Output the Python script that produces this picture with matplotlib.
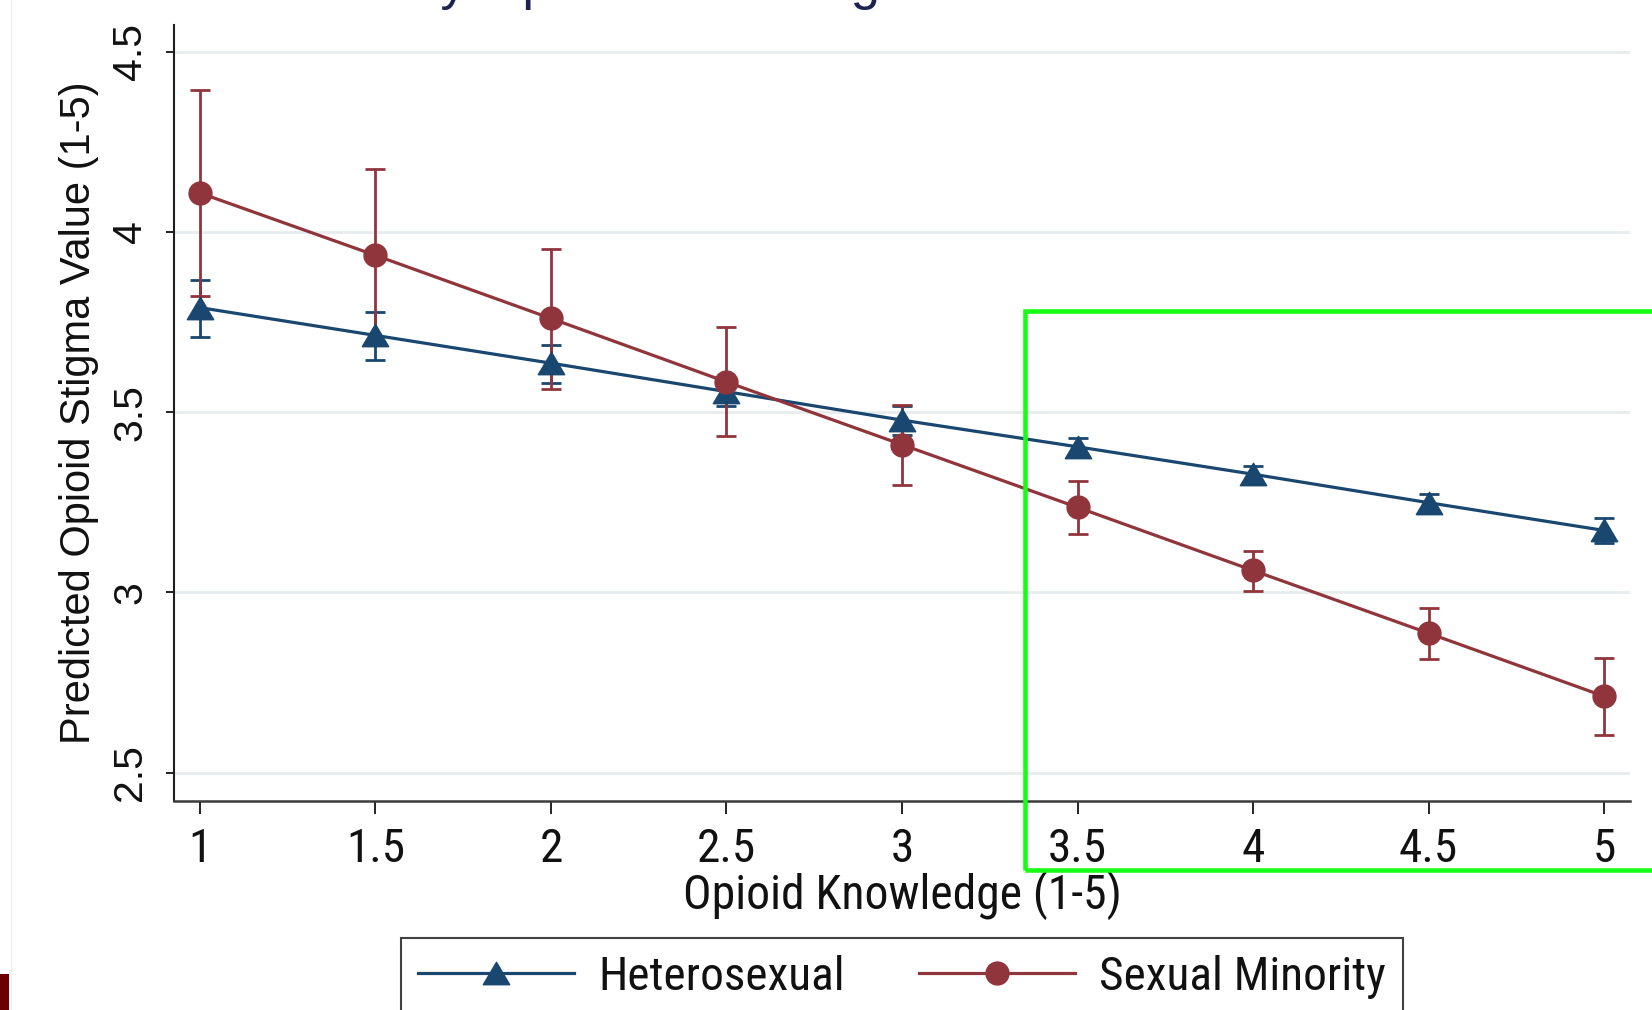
import matplotlib
matplotlib.use("Agg")
import matplotlib.pyplot as plt
import numpy as np
from matplotlib.path import Path
from matplotlib.lines import Line2D
from matplotlib.patches import Rectangle
from matplotlib import font_manager as fm

# ---------------- data ----------------
knowledge = [1, 1.5, 2, 2.5, 3, 3.5, 4, 4.5, 5]
hetero_mean = [3.790, 3.713, 3.636, 3.557, 3.478, 3.404, 3.328, 3.249, 3.172]
hetero_lo = [3.709, 3.645, 3.582, 3.518, 3.438, 3.382, 3.306, 3.224, 3.136]
hetero_hi = [3.868, 3.778, 3.686, 3.594, 3.518, 3.428, 3.350, 3.272, 3.206]
minority_mean = [4.108, 3.935, 3.760, 3.584, 3.410, 3.236, 3.061, 2.887, 2.712]
minority_lo = [3.823, 3.695, 3.564, 3.433, 3.299, 3.163, 3.004, 2.815, 2.605]
minority_hi = [4.395, 4.175, 3.954, 3.735, 3.521, 3.308, 3.115, 2.956, 2.818]
series_labels = ["Heterosexual", "Sexual Minority"]
x_ticks = [1, 1.5, 2, 2.5, 3, 3.5, 4, 4.5, 5]
x_tick_labels = ["1", "1.5", "2", "2.5", "3", "3.5", "4", "4.5", "5"]
y_ticks = [2.5, 3, 3.5, 4, 4.5]
y_tick_labels = ["2.5", "3", "3.5", "4", "4.5"]
x_label = "Opioid Knowledge (1-5)"
y_label = "Predicted Opioid Stigma Value (1-5)"
title_text = "by Opioid Knowledge and Orientation"

NAVY = "#1a476f"
MAROON = "#90353b"
REGULAR = ["Liberation Sans", "DejaVu Sans"]

# a condensed face if one is installed, else regular face at a smaller size
_names = {f.name for f in fm.fontManager.ttflist}
_narrow = next((n for n in ["Liberation Sans Narrow", "Arial Narrow",
                            "Roboto Condensed", "Open Sans Condensed"]
                if n in _names), None)
if _narrow:
    NARROW = [_narrow] + REGULAR
    XTICK_FS, XLAB_FS, LEG_FS = 34, 34.3, 34
else:
    NARROW = REGULAR
    XTICK_FS, XLAB_FS, LEG_FS = 31, 31.5, 31

W, H = 1652, 1010
fig = plt.figure(figsize=(W / 100, H / 100), dpi=100)
fig.patch.set_facecolor("white")

L, R, T, B = 174, 1630, 25, 801
ax = fig.add_axes([L / W, 1 - B / H, (R - L) / W, (B - T) / H])
ax.set_facecolor("white")

ax.set_xlim(0.926, 5.074)
ax.set_ylim(2.4215, 4.574)

for s in ["top", "right"]:
    ax.spines[s].set_visible(False)
ax.spines["left"].set_color("#1e1e1e")
ax.spines["left"].set_linewidth(1.5)
ax.spines["bottom"].set_color("#3a3a3a")
ax.spines["bottom"].set_linewidth(1.8)

ax.set_yticks(y_ticks)
ax.set_yticklabels(y_tick_labels, rotation=90, va="center", ha="right",
                   family=REGULAR, fontsize=29.5)
ax.set_xticks(x_ticks)
ax.set_xticklabels(x_tick_labels, family=NARROW, fontsize=XTICK_FS)
ax.grid(axis="y", color="#e7ecee", linewidth=2.0, zorder=0)
ax.grid(axis="x", visible=False)
ax.set_axisbelow(True)
ax.tick_params(axis="x", length=9, width=1.4, color="#222222", pad=9.5,
               labelcolor="#111111")
ax.tick_params(axis="y", length=6, width=1.4, color="#222222", pad=12,
               labelcolor="#111111")

tri = Path([(0, 0.85), (-1, -0.85), (1, -0.85), (0, 0.85)],
           [Path.MOVETO, Path.LINETO, Path.LINETO, Path.CLOSEPOLY])

hx = np.array(knowledge)
h_mean = np.array(hetero_mean)
m_mean = np.array(minority_mean)

ax.errorbar(hx, h_mean,
            yerr=[h_mean - np.array(hetero_lo), np.array(hetero_hi) - h_mean],
            fmt="none", ecolor=NAVY, elinewidth=2.0, capsize=7.2, capthick=2.0,
            zorder=3)
ax.errorbar(hx, m_mean,
            yerr=[m_mean - np.array(minority_lo), np.array(minority_hi) - m_mean],
            fmt="none", ecolor=MAROON, elinewidth=2.0, capsize=7.2, capthick=2.0,
            zorder=3)

ax.plot(hx, h_mean, color=NAVY, lw=2.3, marker=tri, markersize=19,
        markerfacecolor=NAVY, markeredgecolor=NAVY, zorder=4)
ax.plot(hx, m_mean, color=MAROON, lw=2.3, marker="o", markersize=16.5,
        markerfacecolor=MAROON, markeredgecolor=MAROON, zorder=5)

ax.set_xlabel(x_label, family=NARROW, fontsize=XLAB_FS, color="#111111",
              va="center")
ax.xaxis.set_label_coords(0.5, (B - 895) / (B - T))
ax.set_ylabel(y_label, family=REGULAR, fontsize=30, color="#111111",
              va="center", ha="center")
ax.yaxis.set_label_coords((79 - L) / (R - L), 0.5)

handles = [
    Line2D([], [], color=NAVY, lw=2.3, marker=tri, markersize=19,
           markerfacecolor=NAVY, markeredgecolor=NAVY),
    Line2D([], [], color=MAROON, lw=2.3, marker="o", markersize=16.5,
           markerfacecolor=MAROON, markeredgecolor=MAROON),
]
em = LEG_FS * 100 / 72.0
leg = fig.legend(handles, series_labels, loc="upper center",
                 bbox_to_anchor=(902 / W, 1 - 938 / H), ncol=2,
                 prop={"family": NARROW, "size": LEG_FS},
                 frameon=True, fancybox=False, edgecolor="#111111",
                 handlelength=156 / em, handletextpad=24 / em,
                 columnspacing=74 / em, borderpad=0.36, borderaxespad=0.0,
                 numpoints=1)
leg.get_frame().set_linewidth(1.5)
for t in leg.get_texts():
    t.set_color("#111111")

# title mostly cut off at the top edge: only descenders remain visible
fig.text(411 / W, 1 + 1.0 / H, title_text, ha="left", va="baseline",
         family=REGULAR, fontsize=38, color="#1c2350")

# green highlight rectangle (screenshot annotation)
fig.patches.append(Rectangle((1025 / W, 1 - 870 / H), (1720 - 1025) / W,
                             (870 - 311) / H, transform=fig.transFigure,
                             fill=False, edgecolor="#14ff14", linewidth=3.3,
                             zorder=10))
fig.patches.append(Rectangle((0, 0), 9 / W, 36 / H, transform=fig.transFigure,
                             facecolor="#6a0000", edgecolor="none", zorder=10))
fig.lines.append(Line2D([10.5 / W, 10.5 / W], [0, 1], transform=fig.transFigure,
                        color="#f1f1f1", lw=1.0))

fig.savefig("out.png", dpi=100, facecolor="white")
